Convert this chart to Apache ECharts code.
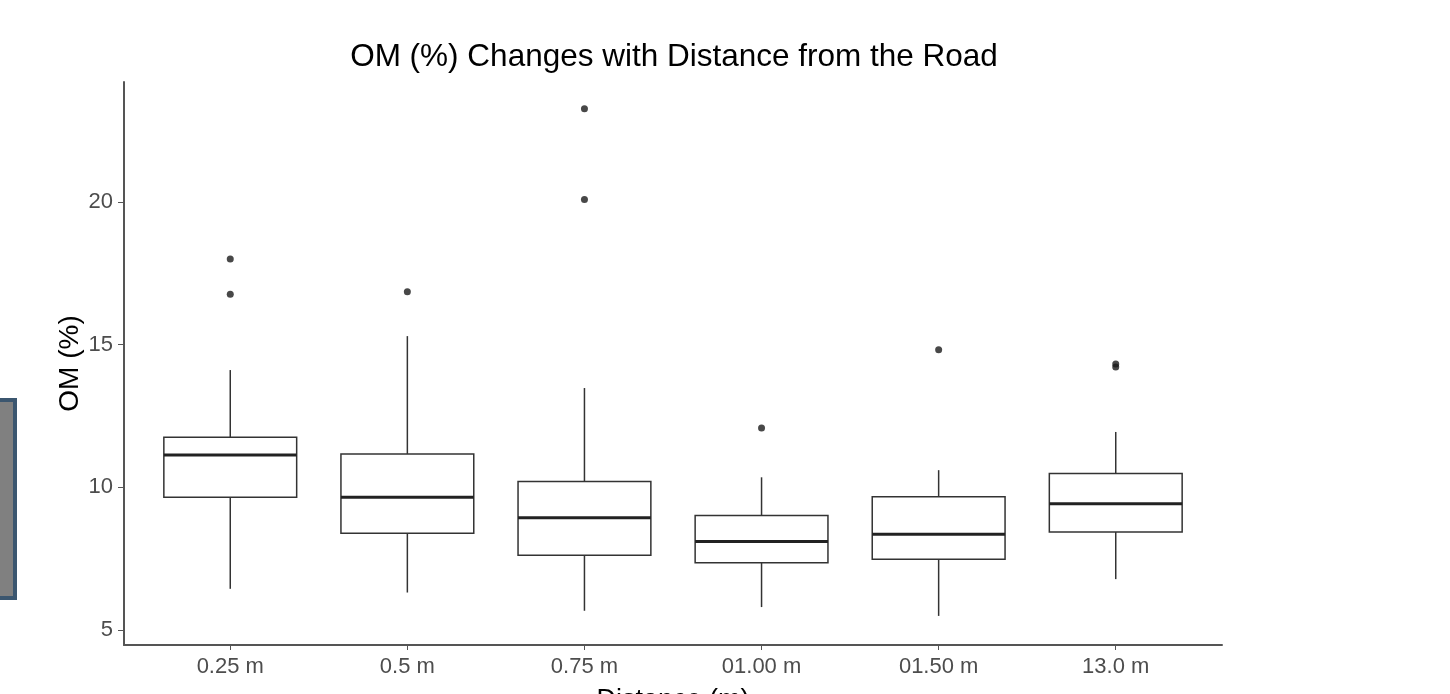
<!DOCTYPE html>
<html>
<head>
<meta charset="utf-8">
<script src="https://cdn.jsdelivr.net/npm/echarts@6/dist/echarts.min.js"></script>
<style>
  html, body { margin: 0; padding: 0; background: #fff; }
  #chart { width: 1450px; height: 694px; }
</style>
</head>
<body>
<div id="chart"></div>
<script>
// categories on the x axis
const distances = ['0.25 m', '0.5 m', '0.75 m', '01.00 m', '01.50 m', '13.0 m'];
// five-number summaries
const lowWhisker = [6.44, 6.31, 5.67, 5.80, 5.49, 6.78];
const q1 = [9.65, 8.39, 7.62, 7.35, 7.48, 8.43];
const median = [11.13, 9.65, 8.93, 8.10, 8.35, 9.42];
const q3 = [11.75, 11.17, 10.20, 9.01, 9.67, 10.48];
const highWhisker = [14.11, 15.30, 13.48, 10.35, 10.60, 11.94];
// outliers: [category index (1-based), value]
const outliers = [
    [1, 18.0], [1, 16.77],
    [2, 16.86],
    [3, 23.27], [3, 20.09],
    [4, 12.08],
    [5, 14.82],
    [6, 14.22], [6, 14.32]
];
const yTicks = [5, 10, 15, 20];
const xTicks = [1, 2, 3, 4, 5, 6];

const fontFam = '"Liberation Sans", Arial, sans-serif';

const boxData = distances.map((_, i) => [i + 1, lowWhisker[i], q1[i], median[i], q3[i], highWhisker[i]]);

const chart = echarts.init(document.getElementById('chart'));

chart.setOption({
    animation: false,
    title: {
        text: 'OM (%) Changes with Distance from the Road',
        left: 669, top: 36, textAlign: 'center',
        textStyle: { fontFamily: fontFam, fontSize: 31.5, fontWeight: 'normal', color: '#000' }
    },
    grid: { left: 124, right: 228, top: 82, bottom: 49, outerBoundsMode: 'none', containLabel: false },
    xAxis: {
        type: 'value', min: 0.4, max: 6.6,
        name: 'Distance (m)', nameLocation: 'middle', nameGap: 42,
        nameTextStyle: { fontFamily: fontFam, fontSize: 27, color: '#000' },
        axisLine: { show: true, lineStyle: { color: '#555', width: 2 } },
        axisTick: { show: true, customValues: xTicks, length: 5, lineStyle: { color: '#555' } },
        axisLabel: {
            customValues: xTicks, margin: 11,
            formatter: v => distances[Math.round(v) - 1] || '',
            fontFamily: fontFam, fontSize: 22, color: '#4d4d4d'
        },
        splitLine: { show: false }
    },
    yAxis: {
        type: 'value', min: 4.47, max: 24.21,
        name: 'OM (%)', nameLocation: 'middle', nameGap: 40, nameRotate: 90,
        nameMoveOverlap: false,
        nameTextStyle: { fontFamily: fontFam, fontSize: 28, color: '#000' },
        axisLine: { show: true, lineStyle: { color: '#555', width: 2 } },
        axisTick: { show: true, customValues: yTicks, length: 6, lineStyle: { color: '#555' } },
        axisLabel: {
            customValues: yTicks, margin: 11,
            fontFamily: fontFam, fontSize: 22, color: '#4d4d4d'
        },
        splitLine: { show: false }
    },
    series: [
        {
            type: 'custom',
            data: boxData,
            renderItem: (params, api) => {
                const x = api.value(0);
                const half = api.size([0.75, 0])[0] / 2;
                const pLo = api.coord([x, api.value(1)]);
                const pQ1 = api.coord([x, api.value(2)]);
                const pMed = api.coord([x, api.value(3)]);
                const pQ3 = api.coord([x, api.value(4)]);
                const pHi = api.coord([x, api.value(5)]);
                const stroke = { stroke: '#333', lineWidth: 1.5, fill: null };
                return {
                    type: 'group',
                    children: [
                        { type: 'line', shape: { x1: pHi[0], y1: pHi[1], x2: pQ3[0], y2: pQ3[1] }, style: stroke },
                        { type: 'line', shape: { x1: pLo[0], y1: pLo[1], x2: pQ1[0], y2: pQ1[1] }, style: stroke },
                        { type: 'rect', shape: { x: pQ3[0] - half, y: pQ3[1], width: half * 2, height: pQ1[1] - pQ3[1] },
                          style: { stroke: '#333', lineWidth: 1.5, fill: '#fff' } },
                        { type: 'line', shape: { x1: pMed[0] - half, y1: pMed[1], x2: pMed[0] + half, y2: pMed[1] },
                          style: { stroke: '#222', lineWidth: 3 } }
                    ]
                };
            }
        },
        {
            type: 'scatter',
            data: outliers,
            symbolSize: 7,
            itemStyle: { color: '#1a1a1a' }
        }
    ],
    graphic: [{
        type: 'rect', left: -4, top: 398,
        shape: { width: 17, height: 198 },
        style: { fill: '#808080', stroke: '#3b566f', lineWidth: 4 }
    }]
});

window.addEventListener('resize', () => chart.resize());
</script>
</body>
</html>
